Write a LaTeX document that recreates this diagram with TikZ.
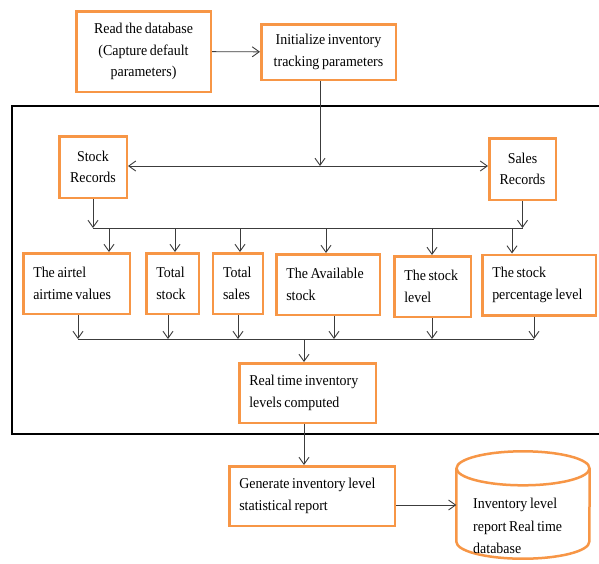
\documentclass[tikz,border=0pt]{standalone}
\usepackage{fontspec}
\setmainfont{Liberation Serif}[FakeStretch=0.93,WordSpace=0.75]
\usepackage{tikz}
\usetikzlibrary{positioning,calc,arrows.meta}
\definecolor{boxorange}{RGB}{247,150,70}
\definecolor{linegray}{RGB}{60,60,60}
\tikzstyle{procbox} = [draw=boxorange, line width=2.5pt, fill=white, align=center, inner xsep=10pt, font=\fontsize{15}{21.5}\selectfont]
\tikzstyle{leftbox} = [procbox, align=flush left]
\tikzstyle{line} = [draw=linegray, line width=0.9pt]
\tikzstyle{arrline} = [line, -{Straight Barb[length=7pt,width=10pt]}]
\tikzstyle{dbline} = [draw=boxorange, line width=2.5pt]

\begin{document}
\begin{tikzpicture}[x=1pt,y=-1pt]
\clip (0,0) rectangle (599,563);
\fill[white] (0,0) rectangle (599,563);
% outer frame
\draw[line width=2pt] (12,106) rectangle (610,434);

\node[procbox, minimum width=134.5pt, minimum height=80.5pt] (read) at (143.5,51.5) {Read the database\\(Capture default\\parameters)};
\node[procbox, minimum width=134.5pt, minimum height=55.5pt] (init) at (328.5,52) {Initialize inventory\\tracking parameters};
\node[procbox, minimum width=67.5pt, minimum height=61.5pt] (stock) at (93,167) {Stock\\Records};
\node[procbox, minimum width=66.5pt, minimum height=61.5pt] (sales) at (522.5,169) {Sales\\Records};

% row of values
\node[leftbox, text width=86.5pt, minimum height=60.5pt] (airtel) at (76.5,283.5) {The airtel\\airtime values};
\node[leftbox, text width=32.5pt, minimum height=60.5pt] (totstock) at (172.5,283.5) {Total\\stock};
\node[leftbox, text width=30pt, minimum height=60.5pt] (totsales) at (238,283.5) {Total\\sales};
\node[leftbox, text width=83.5pt, minimum height=60.5pt] (avail) at (328,284.5) {The Available\\stock};
\node[leftbox, text width=56.5pt, minimum height=60.5pt] (stocklevel) at (432.5,286.5) {The stock\\level};
\node[leftbox, text width=93.5pt, minimum height=60.5pt] (percent) at (539,285) {The stock\\percentage level};

\node[leftbox, text width=116.5pt, minimum height=59.5pt] (realtime) at (307.5,393) {Real time inventory\\levels computed};
\node[leftbox, text width=145.5pt, minimum height=59.5pt] (generate) at (312,496) {Generate inventory level\\statistical report};

% database cylinder
\node[minimum width=133pt, minimum height=107pt] (db) at (523,505) {};
\draw[dbline] ([yshift=-17pt]db.north) ellipse [x radius=66.5pt, y radius=17pt];
\draw[dbline] ([yshift=-17pt]db.north west) -- ([yshift=17pt]db.south west)
  arc[start angle=180, end angle=360, x radius=66.5pt, y radius=17pt] -- ([yshift=-17pt]db.north east);
\node[align=left, anchor=west, inner sep=0pt, font=\fontsize{15}{22.5}\selectfont] (dbtext) at (473,526) {Inventory level\\report Real time\\database};

% connectors
\coordinate (split) at (320,166);
\coordinate (busA) at (0,228);
\coordinate (busB) at (0,339);
\draw[arrline] (read) -- (init);
\draw[arrline] (init.south -| split) -- (split);
\draw[line, {Straight Barb[length=7pt,width=10pt]}-{Straight Barb[length=7pt,width=10pt]}] (stock.east |- split) -- (sales.west |- split);
\draw[arrline] (stock.south) -- (stock.south |- busA);
\draw[arrline] (sales.south) -- (sales.south |- busA);
\draw[line] (stock.south |- busA) -- (sales.south |- busA);
\foreach \x/\n in {109/airtel,175/totstock,240/totsales,326/avail,432/stocklevel,512/percent}
  \draw[arrline] (busA -| \x,0) -- (\n.north -| \x,0);
\foreach \x/\n in {78/airtel,168/totstock,238/totsales,334/avail,432/stocklevel,534/percent}
  \draw[arrline] (\n.south -| \x,0) -- (busB -| \x,0);
\draw[line] (busB -| 78,0) -- (busB -| 534,0);
\draw[arrline] (busB -| 304,0) -- (realtime.north -| 304,0);
\draw[arrline] (realtime.south -| 304,0) -- (generate.north -| 304,0);
\draw[arrline] (generate.east |- db.west) -- (db.west);
\end{tikzpicture}
\end{document}
